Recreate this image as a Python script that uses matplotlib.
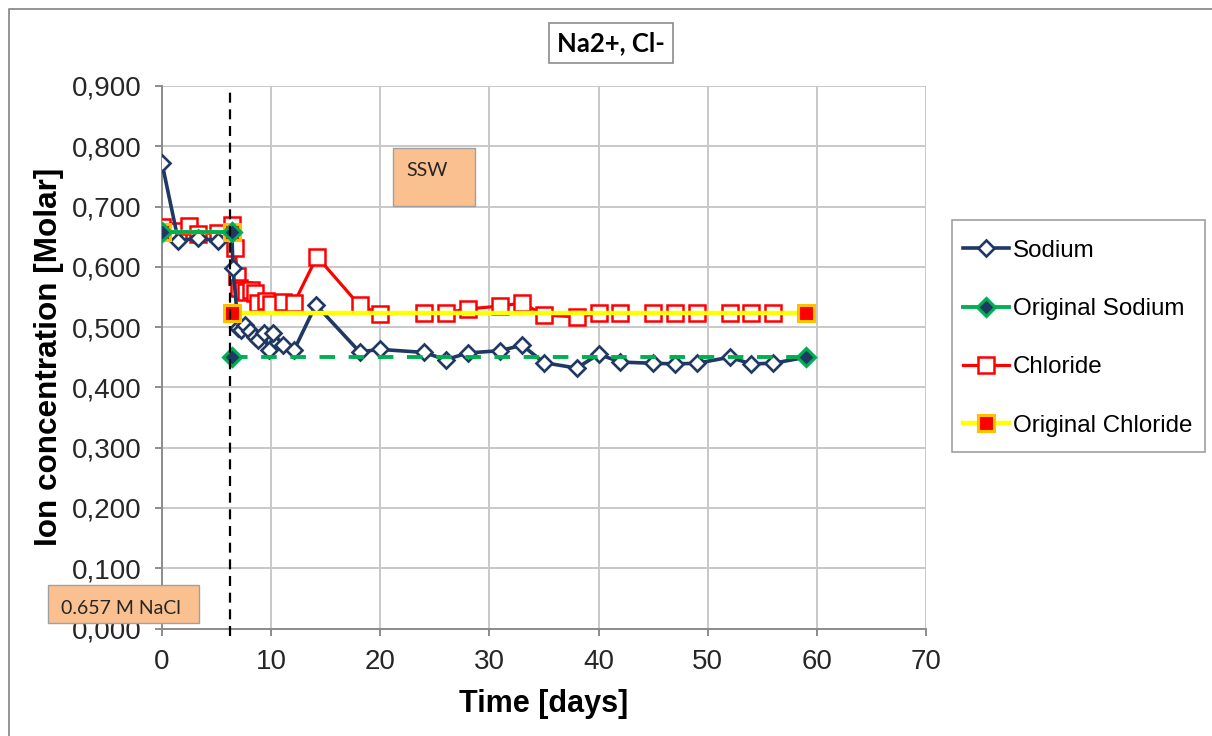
import matplotlib
matplotlib.use("Agg")
import matplotlib.pyplot as plt
from matplotlib.patches import Rectangle
from matplotlib.lines import Line2D
from matplotlib.ticker import FuncFormatter
import numpy as np

# ---------------- data ----------------
sodium_t = [0, 1.5, 3.3, 5.1, 6.4, 6.5, 7.0, 7.2, 7.6, 8.1, 8.5, 8.8, 9.3, 9.8, 10.2,
            11.1, 12.1, 14.1, 18.1, 20, 24, 26, 28, 31, 33, 35, 38, 40, 42, 45, 47,
            49, 52, 54, 56, 59]
sodium = [0.772, 0.643, 0.648, 0.643, 0.659, 0.598, 0.498, 0.495, 0.504, 0.493, 0.484,
          0.479, 0.490, 0.462, 0.490, 0.470, 0.462, 0.537, 0.459, 0.463, 0.458, 0.446,
          0.457, 0.461, 0.470, 0.441, 0.432, 0.455, 0.442, 0.440, 0.439, 0.440, 0.450,
          0.439, 0.440, 0.450]

chloride_t = [0, 1.5, 2.5, 3.3, 5.1, 6.4, 6.7, 6.9, 7.1, 7.4, 7.7, 8.2, 8.5, 8.8, 9.5,
              10.0, 11.1, 12.1, 14.2, 18.1, 20, 24, 26, 28, 31, 33, 35, 38, 40, 42, 45,
              47, 49, 52, 54, 56, 59]
chloride = [0.666, 0.660, 0.668, 0.655, 0.656, 0.670, 0.631, 0.584, 0.565, 0.562, 0.559,
            0.562, 0.557, 0.540, 0.544, 0.539, 0.542, 0.540, 0.617, 0.536, 0.522, 0.524,
            0.524, 0.530, 0.535, 0.540, 0.520, 0.517, 0.523, 0.524, 0.524, 0.524, 0.524,
            0.524, 0.524, 0.524, 0.524]

orig_sodium_t1 = [0, 6.4]
orig_sodium_1 = [0.657, 0.657]
orig_sodium_t2 = [6.4, 59]
orig_sodium_2 = [0.450, 0.450]

orig_chloride_t = [0, 6.4, np.nan, 6.4, 59]
orig_chloride = [0.657, 0.657, np.nan, 0.524, 0.524]

switch_day = 6.25

x_ticks = [0, 10, 20, 30, 40, 50, 60, 70]
y_ticks = [0.0, 0.1, 0.2, 0.3, 0.4, 0.5, 0.6, 0.7, 0.8, 0.9]

title = "Na2+, Cl-"
x_label = "Time [days]"
y_label = "Ion concentration [Molar]"
labels = ["Sodium", "Original Sodium", "Chloride", "Original Chloride"]

# ---------------- style ----------------
plt.rcParams['font.family'] = ['Liberation Sans', 'DejaVu Sans']

W, H = 1212, 736
fig = plt.figure(figsize=(W / 100, H / 100), dpi=100)

# outer border (left and top edges visible)
fig.lines.append(Line2D([8.5 / W, 8.5 / W, 1.0], [0.0, 1 - 8.5 / H, 1 - 8.5 / H],
                        transform=fig.transFigure, color='#8c8c8c', lw=1.3))

ax = fig.add_axes([162 / W, 1 - 628.5 / H, (926 - 162) / W, (628.5 - 86) / H])

navy = '#1f3864'
red = '#ff0000'
yellow = '#ffff00'
green = '#00b050'
orange = '#ffc000'

ax.plot(chloride_t, chloride, color=red, lw=2.3, marker='s', ms=11,
        mfc='white', mec=red, mew=1.8, zorder=3)
ax.plot(sodium_t, sodium, color=navy, lw=2.6, marker='D', ms=8,
        mfc='white', mec=navy, mew=1.9, zorder=4)
ax.plot(orig_chloride_t, orig_chloride, color=yellow, lw=3.2, marker='s', ms=11,
        mfc=red, mec=orange, mew=2.2, zorder=5)
ax.plot(orig_sodium_t1, orig_sodium_1, color=green, lw=2.8, marker='D', ms=9,
        mfc=navy, mec=green, mew=2.2, zorder=6)
ax.plot(orig_sodium_t2, orig_sodium_2, color=green, lw=2.8, ls=(0, (4, 3.5)),
        marker='D', ms=9, mfc=navy, mec=green, mew=2.2, zorder=6)

ax.vlines(switch_day, -0.012, 0.9, colors='black', lw=1.6, linestyles=(0, (4.5, 3)),
          zorder=7, clip_on=False)

ax.set_xlim(0, 70)
ax.set_ylim(0, 0.9)
ax.set_xticks(x_ticks)
ax.set_yticks(y_ticks)
ax.yaxis.set_major_formatter(FuncFormatter(lambda v, p: f"{v:.3f}".replace('.', ',')))
ax.grid(True, color='#c8c8c8', lw=1.4, zorder=0)
ax.set_axisbelow(True)
for s in ['top', 'right']:
    ax.spines[s].set_visible(False)
for s in ['left', 'bottom']:
    ax.spines[s].set_color('#8c8c8c')
    ax.spines[s].set_linewidth(1.4)
ax.tick_params(axis='both', labelsize=20, colors='#8c8c8c', labelcolor='#262626',
               length=5, width=1.4)
ax.tick_params(axis='y', pad=10)
ax.tick_params(axis='x', pad=10)

ax.set_xlabel(x_label, fontsize=22, fontweight='bold', labelpad=10)
ax.set_ylabel(y_label, fontsize=22.7, fontweight='bold', labelpad=5)

# title in box
fig.text(611 / W, 1 - 43 / H, title, ha='center', va='center', fontsize=18.5,
         fontweight='bold', family=['Lato', 'DejaVu Sans'],
         bbox=dict(boxstyle='square,pad=0.3', fc='white', ec='#8c8c8c', lw=1.2))

# annotation boxes
fig.patches.append(Rectangle((393 / W, 1 - 206 / H), 82 / W, 58 / H,
                             transform=fig.transFigure, fc='#fac090', ec='#a0a0a0',
                             lw=1.0, zorder=10))
fig.text(406 / W, 1 - 170 / H, "SSW", ha='left', va='center', fontsize=14,
         family=['Lato', 'DejaVu Sans'], color='#262626', zorder=11)
fig.patches.append(Rectangle((48 / W, 1 - 623 / H), 151 / W, 38 / H,
                             transform=fig.transFigure, fc='#fac090', ec='#a0a0a0',
                             lw=1.0, zorder=10))
fig.text(61 / W, 1 - 608 / H, "0.657 M NaCl", ha='left', va='center', fontsize=14,
         family=['Lato', 'DejaVu Sans'], color='#262626', zorder=11)

# legend (frame drawn separately)
fig.patches.append(Rectangle((952 / W, 1 - 452 / H), 253 / W, 232 / H,
                             transform=fig.transFigure, fc='white', ec='#a0a0a0',
                             lw=1.2, zorder=1))
h_na = Line2D([], [], color=navy, lw=2.6, marker='D', ms=8, mfc='white', mec=navy, mew=1.9)
h_os = Line2D([], [], color=green, lw=2.8, marker='D', ms=9, mfc=navy, mec=green, mew=2.2)
h_cl = Line2D([], [], color=red, lw=2.3, marker='s', ms=11, mfc='white', mec=red, mew=1.8)
h_oc = Line2D([], [], color=yellow, lw=3.2, marker='s', ms=11, mfc=red, mec=orange, mew=2.2)
leg = fig.legend([h_na, h_os, h_cl, h_oc], labels, loc='upper left',
                 bbox_to_anchor=(952 / W, 1 - 229 / H), fontsize=17.4,
                 frameon=False, labelspacing=1.5, handlelength=1.9,
                 handletextpad=0.17, borderpad=0.45, borderaxespad=0)
leg.set_zorder(2)

fig.savefig("out.png", dpi=100)
